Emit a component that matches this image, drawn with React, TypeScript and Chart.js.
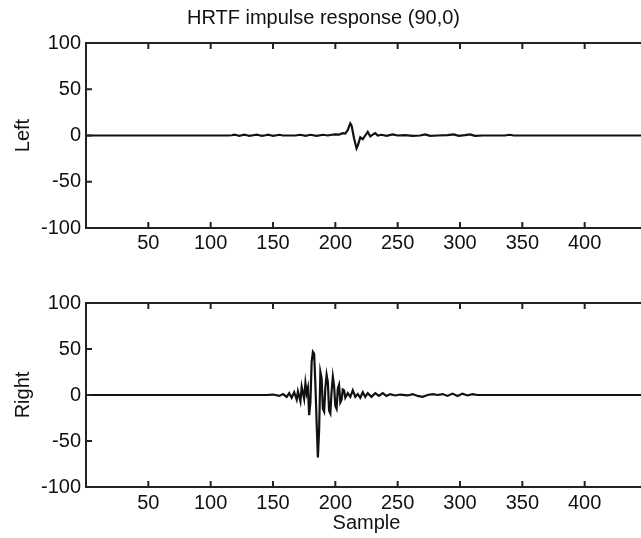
import React, { useEffect, useRef } from "react";
import { Chart, registerables } from "chart.js";

Chart.register(...registerables);

const TITLE = "HRTF impulse response (90,0)";
const X_TICKS = [50, 100, 150, 200, 250, 300, 350, 400];
const Y_TICKS = [-100, -50, 0, 50, 100];
const X_MIN = 0;
const X_MAX = 450;

const LEFT_SAMPLES = [0, 114, 117, 119, 121, 123, 125, 127, 129, 131, 134, 137, 139, 141, 144, 146, 148, 150, 153, 155, 158, 168, 172, 176, 180, 185, 190, 194, 197, 200, 203, 206, 208, 210, 212, 213, 215, 217, 218, 220, 222, 224, 226, 228, 230, 232, 234, 237, 241, 246, 250, 256, 262, 268, 272, 276, 282, 290, 295, 299, 304, 308, 312, 318, 336, 340, 343, 450];
const LEFT_VALUES = [0, 0, 0.3, 1, 0.3, -0.4, 0.3, 1, 0.3, -0.4, 0.3, 1, 0.3, -0.4, 0.3, 1, 0.3, -0.4, 0.3, 0.8, 0, 0, 0.8, -0.4, 0.8, -0.4, 0.8, 0, 0.8, 1.2, 1, 2.5, 2, 6, 13, 11, -3, -14, -11, -2, -4, 0, 4, -1, 1, 2.5, 0, 0.8, -0.4, 1.2, 0, 0.4, -0.4, 0, 1.2, -0.4, 0, 0.4, 1.2, -0.4, 0.4, 1.2, -0.4, 0, 0, 0.8, 0, 0];

const RIGHT_SAMPLES = [0, 145, 150, 155, 158, 161, 163, 165, 167, 169, 170, 172, 173, 175, 176, 177, 178, 179, 180, 181, 182, 183, 184, 185, 186, 187, 188, 189, 190, 191, 192, 193, 194, 195, 196, 197, 198, 199, 200, 201, 202, 203, 204, 205, 206, 207, 208, 210, 212, 214, 216, 218, 220, 222, 224, 226, 229, 232, 235, 238, 241, 244, 248, 252, 258, 262, 266, 270, 274, 278, 282, 286, 290, 294, 298, 302, 306, 310, 314, 450];
const RIGHT_VALUES = [0, 0, 0.5, -1, 1, -2, 2, -3, 3, -5, 4, -7, 9, -4, 13, 2, 8, -22, -8, 36, 47, 45, 12, -30, -68, -38, 25, 18, -15, -18, 8, 22, 14, -17, -20, 4, 20, 10, -12, -15, 7, 11, -8, -5, 6, 5, -3, 2, -2, 5, -2, 1, -3, 3, -2, 2, -2, 2, -1, 2, -1, 1, -0.5, 0.5, -0.5, 1, -1, -2, 0, 1, 0, 1, -1, 1.5, -1, 1.5, -0.5, 1, 0, 0];

const FONT = "'Liberation Sans', Arial, Helvetica, sans-serif";
const INK = "#111";

const framePlugin = {
  id: "matlabFrame",
  afterDatasetsDraw(chart: any) {
    const { ctx, chartArea } = chart;
    const { left, right, top, bottom } = chartArea;
    const xs = chart.scales.x;
    const ys = chart.scales.y;
    const tl = 6;
    ctx.save();
    ctx.strokeStyle = "#222";
    ctx.lineWidth = 2;
    ctx.beginPath();
    ctx.rect(left, top, right - left, bottom - top);
    for (const v of X_TICKS) {
      const px = xs.getPixelForValue(v);
      ctx.moveTo(px, bottom);
      ctx.lineTo(px, bottom - tl);
      ctx.moveTo(px, top);
      ctx.lineTo(px, top + tl);
    }
    for (const v of Y_TICKS) {
      const py = ys.getPixelForValue(v);
      ctx.moveTo(left, py);
      ctx.lineTo(left + tl, py);
      ctx.moveTo(right, py);
      ctx.lineTo(right - tl, py);
    }
    ctx.stroke();
    ctx.restore();
  },
};

type PanelProps = {
  samples: number[];
  values: number[];
  yLabel: string;
  title?: string;
  xLabel?: string;
  height: number;
  topPad: number;
  xAxisHeight: number;
  tickPad: number;
};

function Panel(props: PanelProps) {
  const ref = useRef<HTMLCanvasElement | null>(null);
  useEffect(() => {
    if (!ref.current) return;
    const data = props.samples.map((s, i) => ({ x: s, y: props.values[i] }));
    const chart = new Chart(ref.current, {
      type: "line",
      data: {
        datasets: [
          {
            data,
            borderColor: INK,
            borderWidth: 2.2,
            pointRadius: 0,
            tension: 0,
            fill: false,
          },
        ],
      },
      options: {
        animation: false,
        responsive: false,
        devicePixelRatio: 1,
        layout: { padding: { left: 0, right: 85, top: props.topPad, bottom: 0 } },
        plugins: {
          legend: { display: false },
          tooltip: { enabled: false },
          title: {
            display: !!props.title,
            text: props.title || "",
            color: INK,
            font: { family: FONT, size: 20, weight: "normal" },
            padding: { top: 6, bottom: 13 },
          },
        },
        scales: {
          x: {
            type: "linear",
            min: X_MIN,
            max: X_MAX,
            afterBuildTicks: (scale: any) => {
              scale.ticks = X_TICKS.map((v) => ({ value: v }));
            },
            afterFit: (scale: any) => {
              scale.height = props.xAxisHeight;
            },
            grid: { display: false, drawTicks: false },
            border: { display: false },
            ticks: {
              color: INK,
              font: { family: FONT, size: 20 },
              padding: props.tickPad,
              maxRotation: 0,
              autoSkip: false,
            },
            title: {
              display: !!props.xLabel,
              text: props.xLabel || "",
              color: INK,
              font: { family: FONT, size: 20 },
              padding: { top: 0, bottom: 3 },
            },
          },
          y: {
            type: "linear",
            min: -100,
            max: 100,
            afterBuildTicks: (scale: any) => {
              scale.ticks = Y_TICKS.map((v) => ({ value: v }));
            },
            afterFit: (scale: any) => {
              scale.width = 86;
            },
            grid: { display: false, drawTicks: false },
            border: { display: false },
            ticks: {
              color: INK,
              font: { family: FONT, size: 20 },
              padding: 5,
            },
            title: {
              display: true,
              text: props.yLabel,
              color: INK,
              font: { family: FONT, size: 20 },
              padding: { top: 11, bottom: 0 },
            },
          },
        },
      },
      plugins: [framePlugin],
    } as any);
    return () => chart.destroy();
  }, []);
  return (
    <canvas
      ref={ref}
      width={732}
      height={props.height}
      style={{ display: "block", width: 732, height: props.height }}
    />
  );
}

export default function App() {
  return (
    <div
      style={{
        position: "fixed",
        left: 0,
        top: 0,
        width: 641,
        height: 538,
        overflow: "hidden",
        background: "#fff",
      }}
    >
      <div style={{ position: "absolute", left: 0, top: 0 }}>
        <Panel
          samples={LEFT_SAMPLES}
          values={LEFT_VALUES}
          yLabel="Left"
          title={TITLE}
          height={265}
          topPad={0}
          xAxisHeight={37}
          tickPad={3}
        />
      </div>
      <div style={{ position: "absolute", left: 0, top: 265 }}>
        <Panel
          samples={RIGHT_SAMPLES}
          values={RIGHT_VALUES}
          yLabel="Right"
          xLabel="Sample"
          height={273}
          topPad={38}
          xAxisHeight={51}
          tickPad={4}
        />
      </div>
    </div>
  );
}
